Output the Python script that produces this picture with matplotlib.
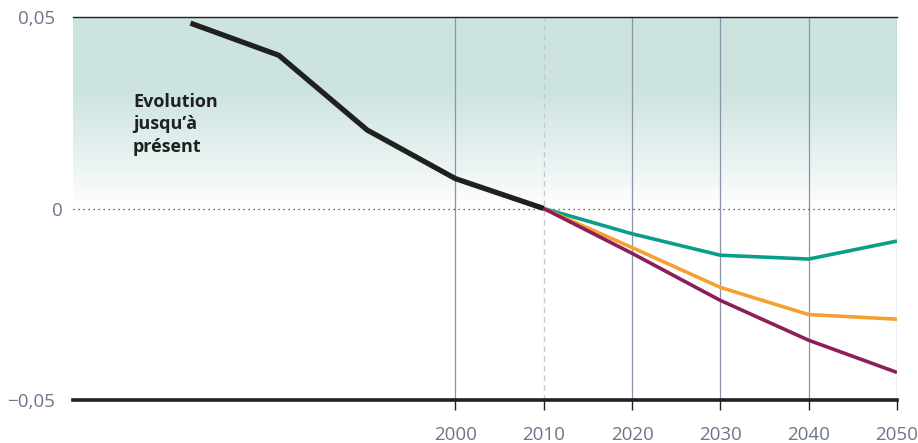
import matplotlib.pyplot as plt
import matplotlib.transforms as mtransforms
import numpy as np

# historical values
hist_years = [1970, 1980, 1990, 2000, 2010]
hist_values = [0.0484, 0.040, 0.0205, 0.0078, 0.0]

# scenarios from 2010
proj_years = [2010, 2020, 2030, 2040, 2050]
teal_values = [0.0, -0.0066, -0.0122, -0.0132, -0.0085]
orange_values = [0.0, -0.0102, -0.0206, -0.0277, -0.0289]
purple_values = [0.0, -0.0117, -0.0240, -0.0344, -0.0428]

x_ticks = [2000, 2010, 2020, 2030, 2040, 2050]
y_ticks = [-0.05, 0, 0.05]
y_labels = ['\u22120,05', '0', '0,05']

fig = plt.figure(figsize=(9.18, 4.43), dpi=100)
ax = fig.add_axes([73 / 918, 43 / 443, 824 / 918, 383 / 443])
x0, x1 = 1956.7, 2050
ax.set_xlim(x0, x1)
ax.set_ylim(-0.05, 0.05)

# gradient background between 0 and 0.05
top = np.array([204, 227, 224]) / 255
n = 200
t = np.linspace(0, 1, n)  # 0 at y=0, 1 at y=0.05
alpha = np.clip(t * 1.6, 0, 1) ** 0.9
grad = np.ones((n, 1, 3)) * (1 - alpha[:, None, None]) + top[None, None, :] * alpha[:, None, None]
ax.imshow(grad, extent=[x0, x1, 0, 0.05], origin='lower', aspect='auto', zorder=0)

# vertical grid
for xv in x_ticks:
    if xv == 2010:
        ax.axvline(xv, color='#c4c9d2', lw=1, ls=(0, (4, 3)), zorder=1)
    else:
        ax.axvline(xv, color='#8a94a6', lw=0.9, zorder=1)
ax.axhline(0, color='#333333', lw=0.9, ls=(0, (1, 3)), zorder=1)

ax.plot(proj_years, teal_values, color='#0a9e8a', lw=2.6, zorder=3, solid_capstyle='butt')
ax.plot(proj_years, orange_values, color='#f6a032', lw=2.6, zorder=3, solid_capstyle='butt')
ax.plot(proj_years, purple_values, color='#8c1f5a', lw=2.6, zorder=3, solid_capstyle='butt')
ax.plot(hist_years, hist_values, color='#1f2020', lw=3.8, zorder=4, solid_capstyle='butt')

ax.text(1963.5, 0.0301, 'Evolution\njusqu\u2019à\nprésent', fontsize=13, fontweight='bold',
        color='#1f2020', va='top', ha='left', linespacing=1.3, family='Open Sans')

for s in ['left', 'right']:
    ax.spines[s].set_visible(False)
ax.spines['top'].set_color('#1f2020')
ax.spines['top'].set_linewidth(1)
ax.spines['bottom'].set_color('#1f2020')
ax.spines['bottom'].set_linewidth(2.6)

ax.set_xticks(x_ticks)
ax.set_xticklabels([str(x) for x in x_ticks])
ax.set_yticks(y_ticks)
ax.set_yticklabels(y_labels)
ax.tick_params(axis='x', length=7, width=1, color='#1f2020', labelcolor='#6b7789',
               labelsize=13.5, pad=12)
ax.tick_params(axis='y', length=0, labelcolor='#6b7789', labelsize=13.5, pad=13)
for lab in ax.get_xticklabels() + ax.get_yticklabels():
    lab.set_family('Open Sans')
# the "0" label sits closer to the axis in the original
zero_lab = ax.get_yticklabels()[1]
zero_lab.set_transform(zero_lab.get_transform() + mtransforms.ScaledTranslation(8 / 100, 0, fig.dpi_scale_trans))

fig.savefig('out.png', dpi=100)
